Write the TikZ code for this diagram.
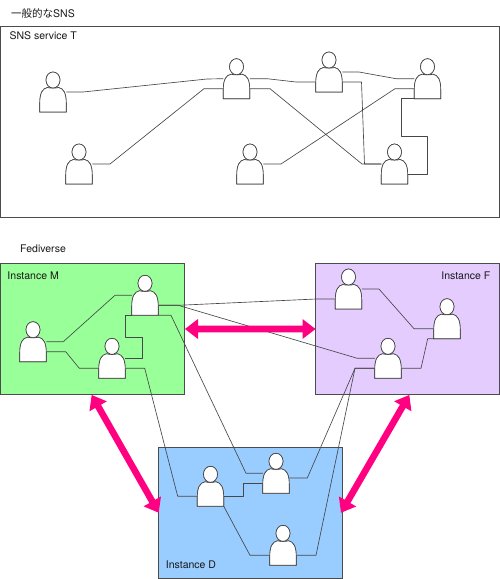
\documentclass[tikz,border=0pt]{standalone}
\usepackage{fontspec}
\setmainfont{TeX Gyre Heros}
\newfontfamily\cjkjp{Noto Sans CJK JP}
\usetikzlibrary{calc}
\definecolor{arrowpink}{RGB}{255,0,128}
\tikzset{
  x=1pt,y=-1pt,
  personbox/.style={rectangle,minimum width=26.5pt,minimum height=40pt,inner sep=0pt,outer sep=0pt},
  personline/.style={draw=black!75,line width=0.65pt,fill=white},
  link/.style={draw=black!72,line width=0.65pt,line join=round},
  frame/.style={rectangle,draw=black!70,line width=0.7pt,inner sep=0pt,outer sep=0pt,anchor=north west},
  label/.style={font=\fontsize{10.5}{12}\selectfont,inner sep=0pt,text=black!90,anchor=west},
  bigarrow/.style={fill=arrowpink,draw=none},
}
\newcommand{\personat}[3]{%
  \node[personbox] (#1) at (#2,#3-20) {};
  \begin{scope}[shift={(#1.south)}]
    \draw[personline] (-13.2,0) -- (-13.2,-9)
      .. controls (-13.2,-19) and (-10.5,-23.5) .. (-5.5,-24.5)
      .. controls (-2,-23.6) and (2,-23.6) .. (5.5,-24.5)
      .. controls (10.5,-23.5) and (13.2,-19) .. (13.2,-9)
      -- (13.2,0) -- cycle;
    \draw[personline] (0,-32) ellipse [x radius=7,y radius=8];
  \end{scope}}
\newcommand{\twoway}[2]{%
  \path let \p1=($(#2)-(#1)$), \n1={atan2(\y1,\x1)}, \n2={veclen(\x1,\y1)} in
    [bigarrow,shift={(#1)},rotate=\n1] [fill=arrowpink]
    (0pt,0pt) -- (13pt,10pt) -- (13pt,3.3pt) -- ({\n2-13pt},3.3pt) -- ({\n2-13pt},10pt)
    -- (\n2,0pt) -- ({\n2-13pt},-10pt) -- ({\n2-13pt},-3.3pt) -- (13pt,-3.3pt) -- (13pt,-10pt) -- cycle;}
\begin{document}
\begin{tikzpicture}
\useasboundingbox (0,0) rectangle (500,579);
% frames
\node[frame,minimum width=499pt,minimum height=190.5pt] (sns) at (0.5,26.5) {};
\node[frame,fill={rgb,255:red,153;green,255;blue,153},minimum width=184pt,minimum height=131pt] (instm) at (0.5,263) {};
\node[frame,fill={rgb,255:red,229;green,204;blue,255},minimum width=184pt,minimum height=131pt] (instf) at (315.5,263) {};
\node[frame,fill={rgb,255:red,153;green,204;blue,255},minimum width=184pt,minimum height=131.5pt] (instd) at (158,447) {};
% labels
\node[label] (tgen) at (11,13) {{\cjkjp 一般的な}SNS};
\node[label] (tsns) at (9.3,36) {SNS service T};
\node[label] (tfed) at (20,249) {Fediverse};
\node[label] (tm) at (7.3,276) {Instance M};
\node[label,anchor=east] (tf) at (490.5,276) {Instance F};
\node[label] (td) at (165.7,565) {Instance D};
\newcommand{\allpersons}{%
\personat{p1}{53}{112}
\personat{p2}{236.5}{98.7}
\personat{p3}{329}{92}
\personat{p4}{427.5}{98.7}
\personat{p5}{79}{184}
\personat{p6}{250}{184}
\personat{p7}{394.5}{184}
\personat{m1}{33}{361.7}
\personat{m2}{145}{315.3}
\personat{m3}{112}{378.3}
\personat{f1}{348.5}{309}
\personat{f2}{447}{338.7}
\personat{f3}{388}{378.3}
\personat{d1}{210.5}{506.3}
\personat{d2}{276}{493.3}
\personat{d3}{283}{565.3}}
\allpersons
% SNS links
\draw[link] (p1.east) -- (83,92) -- (207,79) -- (p2.west);
\draw[link] (p5.east) -- (110,164) -- (204,88.7) -- ([yshift=-10pt]p2.west);
\draw[link] (p2.east) -- (267,78.7) -- (296,82) -- ([yshift=-10pt]p3.west);
\draw[link] ([yshift=-10pt]p2.east) -- (270,88.7) -- (362,164) -- (p7.west);
\draw[link] (p3.east) -- (359,72) -- (396,78.7) -- (p4.west);
\draw[link] ([yshift=-10pt]p3.east) -- (361.5,82) -- (364.5,164) -- (p7.west);
\draw[link] (p6.east) -- (281,164) -- (395,88.7) -- ([yshift=-10pt]p4.west);
\draw[link] (p4.south west) -- (401,98.7) -- (401,136.5) -- (427.5,136.5) -- (427.5,174) -- ([yshift=-10pt]p7.east);
% Fediverse links
\draw[link] (m1.east) -- (63.3,341.7) -- (115,295.3) -- (m2.west);
\draw[link] ([yshift=-10pt]m1.east) -- (65.7,351.7) -- (79.3,368.3) -- ([yshift=-10pt]m3.west);
\draw[link] ([yshift=-10pt]m2.east) -- (178.3,305.3) -- (316,299) -- ([yshift=-10pt]f1.west);
\draw[link] ([yshift=-10pt]m2.east) -- (178.3,305.3) -- (357.3,358.3) -- (f3.west);
\draw[link] (m2.south east) -- (171,315.3) -- (246,473.3) -- (d2.west);
\draw[link] (m2.south west) -- (125.3,315.3) -- (125.3,337) -- (142.7,337) -- (142.7,358.3) -- (m3.east);
\draw[link] ([yshift=-10pt]m3.east) -- (144.7,368.3) -- (177.7,496.3) -- ([yshift=-10pt]d1.west);
\draw[link] ([yshift=-10pt]d1.east) -- (243.3,496.3) -- (243.3,483.3) -- ([yshift=-10pt]d2.west);
\draw[link] (d1.south east) -- (250,555.3) -- ([yshift=-10pt]d3.west);
\draw[link] ([yshift=-4.7pt]d2.east) -- (307.3,478) -- (355,368.3) -- ([yshift=-10pt]f3.west);
\draw[link] ([yshift=-10pt]d3.east) -- (316,555.3) -- (355,368.3) -- ([yshift=-10pt]f3.west);
\draw[link] ([yshift=-10pt]f3.east) -- (421,368.3) -- (427.7,338.7) -- (f2.south west);
\draw[link] (f1.east) -- (379,289) -- (414,328.7) -- ([yshift=-10pt]f2.west);
% redraw persons on top
\allpersons
% big arrows
\coordinate (amfa) at (185,329);
\coordinate (amfb) at (315.5,329);
\coordinate (amda) at (91.7,395);
\coordinate (amdb) at (158.7,512.7);
\coordinate (afda) at (409.3,395);
\coordinate (afdb) at (341,512.7);
\twoway{amfa}{amfb}
\twoway{amda}{amdb}
\twoway{afda}{afdb}
\end{tikzpicture}
\end{document}
